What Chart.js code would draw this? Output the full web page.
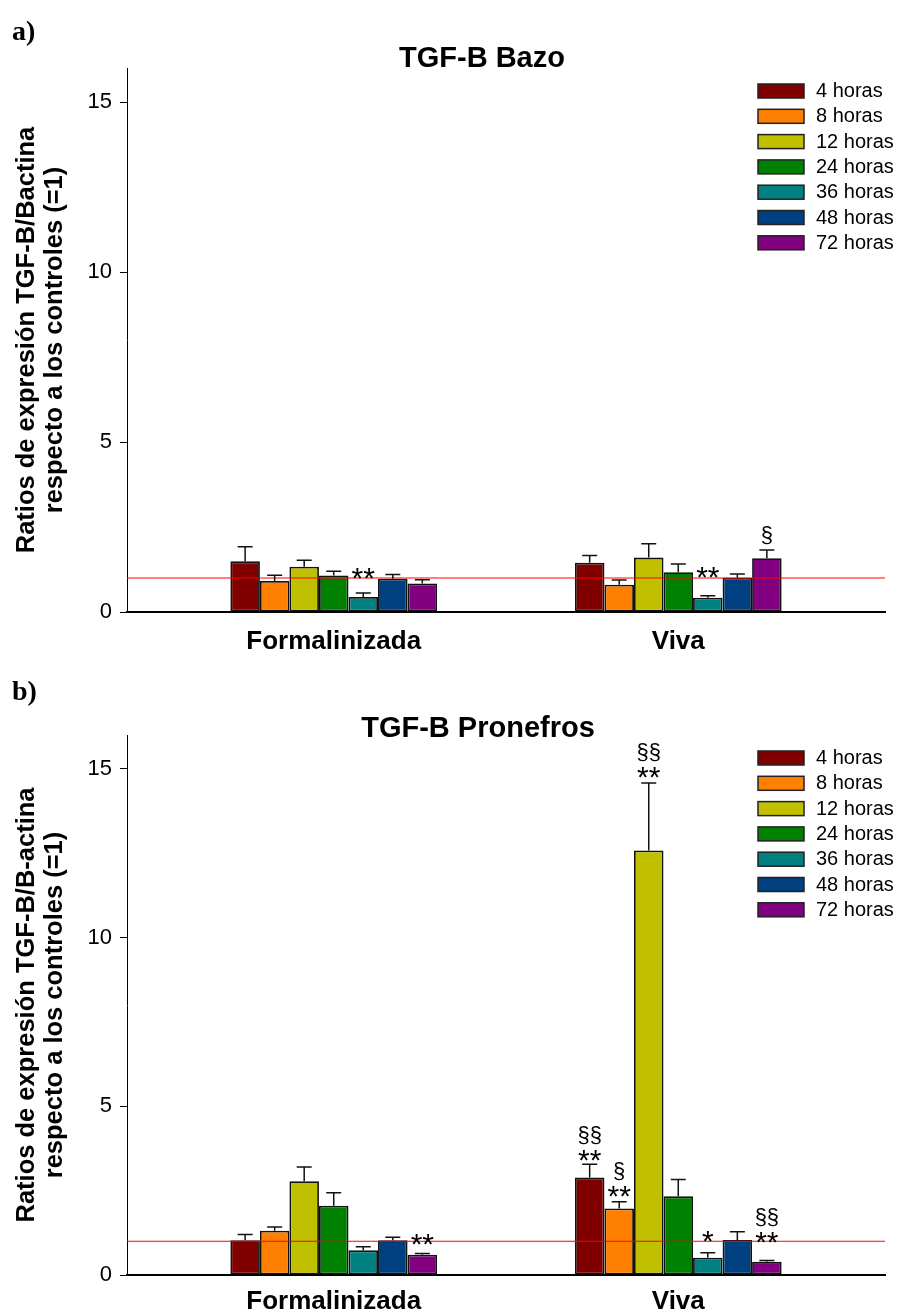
<!DOCTYPE html>
<html><head><meta charset="utf-8">
<script src="https://cdn.jsdelivr.net/npm/chart.js@4.4.1/dist/chart.umd.min.js"></script>
<style>
html,body{margin:0;padding:0;background:#fff;width:899px;height:1313px;overflow:hidden;position:relative;font-family:'Liberation Sans',Arial,sans-serif;color:#000}
.wrap{position:absolute;left:0;width:899px}
.panel{position:absolute;font-family:'Liberation Serif','Times New Roman',serif;font-weight:bold;font-size:28px;line-height:30px}
.title{position:absolute;width:500px;text-align:center;font-weight:bold;font-size:29px;line-height:30px}
</style></head><body>
<div class="wrap" style="top:0;height:660px"><canvas id="c1" width="899" height="660"></canvas></div>
<div class="wrap" style="top:665px;height:648px"><canvas id="c2" width="899" height="648"></canvas></div>
<div class="panel" style="left:12px;top:16px">a)</div>
<div class="title" style="left:232px;top:42px">TGF-B Bazo</div>
<div class="panel" style="left:12px;top:676px">b)</div>
<div class="title" style="left:228px;top:712px">TGF-B Pronefros</div>
<script>
const categories = ['Formalinizada', 'Viva'];
const seriesLabels = ['4 horas','8 horas','12 horas','24 horas','36 horas','48 horas','72 horas'];
const seriesColors = ['#800000','#ff8000','#c0c000','#008000','#008080','#004080','#800080'];
const yTicks = [0, 5, 10, 15];
const controlLevel = 1;

// a) TGF-B Bazo
const bazoFormalinizada    = [1.49, 0.91, 1.33, 1.07, 0.44, 0.98, 0.84];
const bazoFormalinizadaSem = [0.43, 0.17, 0.19, 0.13, 0.12, 0.12, 0.11];
const bazoViva             = [1.45, 0.80, 1.60, 1.17, 0.42, 1.01, 1.58];
const bazoVivaSem          = [0.21, 0.14, 0.41, 0.24, 0.06, 0.11, 0.24];
// [category, series, lines (top to bottom), level of lowest line]
const bazoMarks = [[0,4,['**'],0.70],[1,4,['**'],0.73],[1,6,['§'],2.05]];

// b) TGF-B Pronefros
const pronefrosFormalinizada    = [1.03, 1.31, 2.78, 2.05, 0.73, 1.03, 0.60];
const pronefrosFormalinizadaSem = [0.17, 0.11, 0.42, 0.39, 0.11, 0.09, 0.04];
const pronefrosViva             = [2.89, 1.97, 12.58, 2.33, 0.51, 1.04, 0.39];
const pronefrosVivaSem          = [0.39, 0.20, 2.00, 0.50, 0.15, 0.24, 0.04];
const pronefrosMarks = [[0,6,['**'],0.63],[1,0,['§§','**'],3.10],[1,1,['§','**'],2.03],[1,2,['§§','**'],14.46],[1,4,['*'],0.72],[1,6,['§§','**'],0.67]];

const FAMILY = "'Liberation Sans', Arial, sans-serif";

const extras = {
  id: 'extras',
  afterDatasetsDraw(chart, args, opts) {
    const ctx = chart.ctx, ys = chart.scales.y, area = chart.chartArea;
    ctx.save();
    // error bars
    chart.data.datasets.forEach((ds, di) => {
      if (!ds.sem) return;
      const meta = chart.getDatasetMeta(di);
      meta.data.forEach((bar, j) => {
        const top = ys.getPixelForValue(ds.data[j].y + ds.sem[j]);
        ctx.strokeStyle = '#111'; ctx.lineWidth = 1.5;
        ctx.beginPath();
        ctx.moveTo(bar.x, bar.y); ctx.lineTo(bar.x, top);
        ctx.moveTo(bar.x - 7.5, top); ctx.lineTo(bar.x + 7.5, top);
        ctx.stroke();
      });
    });
    // significance marks
    ctx.fillStyle = '#000'; ctx.textAlign = 'center'; ctx.textBaseline = 'alphabetic';
    (opts.marks || []).forEach(([cat, ser, lines, level]) => {
      const bar = chart.getDatasetMeta(ser + 1).data[cat];
      const base = ys.getPixelForValue(level);
      for (let k = lines.length - 1; k >= 0; k--) {
        const t = lines[k];
        ctx.font = (t.indexOf('*') >= 0 ? '30px ' : '22px ') + FAMILY;
        ctx.fillText(t, bar.x, base - (lines.length - 1 - k) * 28);
      }
    });
    // legend
    const x0 = area.right - 127, y0 = area.top + 16;
    chart.data.datasets.forEach((ds, di) => {
      if (!ds.label) return;
      const k = di - 1, yy = y0 + k * 25.3;
      ctx.fillStyle = ds.backgroundColor;
      ctx.fillRect(x0, yy, 46, 14);
      ctx.strokeStyle = '#222'; ctx.lineWidth = 1.5;
      ctx.strokeRect(x0, yy, 46, 14);
      ctx.fillStyle = '#000'; ctx.font = '20px ' + FAMILY;
      ctx.textAlign = 'left'; ctx.textBaseline = 'middle';
      ctx.fillText(ds.label, x0 + 58, yy + 7.5);
    });
    ctx.restore();
  }
};

function makeChart(id, form, formSem, viva, vivaSem, marks, yTitle, padTop, xAxisH, xPad) {
  const datasets = [{
    type: 'line', data: [{x: -0.6, y: controlLevel}, {x: 1.6, y: controlLevel}],
    borderColor: '#ff0000', borderWidth: 1, pointRadius: 0, order: 0
  }];
  seriesLabels.forEach((lab, i) => {
    datasets.push({
      type: 'bar', label: lab,
      data: [{x: 0, y: form[i]}, {x: 1, y: viva[i]}],
      sem: [formSem[i], vivaSem[i]],
      backgroundColor: seriesColors[i], borderColor: '#111', borderWidth: 1.8,
      borderSkipped: false, order: 1, categoryPercentage: 0.6, barPercentage: 1
    });
  });
  return new Chart(document.getElementById(id), {
    type: 'bar',
    data: { datasets },
    plugins: [extras],
    options: {
      responsive: false, animation: false,
      layout: { padding: { top: padTop, right: 14, left: 0, bottom: 0 } },
      plugins: { legend: { display: false }, tooltip: { enabled: false }, extras: { marks } },
      scales: {
        x: {
          type: 'linear', min: -0.6, max: 1.6, offset: false,
          afterBuildTicks: s => { s.ticks = categories.map((c, i) => ({ value: i })); },
          afterFit: s => { s.height = xAxisH; },
          ticks: { callback: v => categories[v], color: '#000', autoSkip: false, maxRotation: 0,
                   font: { family: FAMILY, size: 26, weight: 'bold' }, padding: xPad },
          grid: { display: false, drawTicks: false, offset: false },
          border: { display: true, color: '#000', width: 2 }
        },
        y: {
          min: 0, max: 16,
          afterBuildTicks: s => { s.ticks = yTicks.map(v => ({ value: v })); },
          afterFit: s => { s.width = 127; },
          ticks: { color: '#000', font: { family: FAMILY, size: 22 }, padding: 8 },
          grid: { drawOnChartArea: false, drawTicks: true, tickLength: 7, color: '#000', lineWidth: 1 },
          border: { display: true, color: '#000', width: 1 },
          title: { display: true, text: [yTitle, 'respecto a los controles (=1)'], color: '#000',
                   font: { family: FAMILY, size: 25.5, weight: 'bold', lineHeight: 1.1 },
                   padding: { top: 13, bottom: 0 } }
        }
      }
    }
  });
}

makeChart('c1', bazoFormalinizada, bazoFormalinizadaSem, bazoViva, bazoVivaSem, bazoMarks,
          'Ratios de expresión TGF-B/Bactina', 68, 48, 14);
makeChart('c2', pronefrosFormalinizada, pronefrosFormalinizadaSem, pronefrosViva, pronefrosVivaSem, pronefrosMarks,
          'Ratios de expresión TGF-B/B-actina', 70, 38, 11);
</script>
</body></html>
